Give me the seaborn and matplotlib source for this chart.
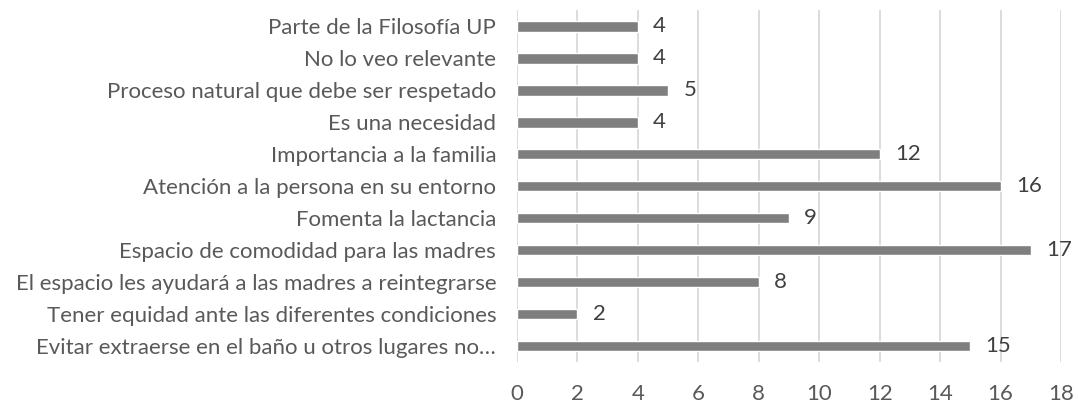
import matplotlib
matplotlib.use("Agg")
import matplotlib.pyplot as plt
import pandas as pd
import seaborn as sns

# categories listed top to bottom as in the chart
razones = [
    "Parte de la Filosofía UP",
    "No lo veo relevante",
    "Proceso natural que debe ser respetado",
    "Es una necesidad",
    "Importancia a la familia",
    "Atención a la persona en su entorno",
    "Fomenta la lactancia",
    "Espacio de comodidad para las madres",
    "El espacio les ayudará a las madres a reintegrarse",
    "Tener equidad ante las diferentes condiciones",
    "Evitar extraerse en el baño u otros lugares no…",
]
respuestas = [4, 4, 5, 4, 12, 16, 9, 17, 8, 2, 15]
x_ticks = list(range(0, 19, 2))

df = pd.DataFrame({"razon": razones, "n": respuestas})

sns.set_theme(style="white")
plt.rcParams["font.family"] = ["Lato", "DejaVu Sans"]

fig = plt.figure(figsize=(10.78, 4.04), dpi=100)
ax = fig.add_axes([0.4796, 0.104, 0.9842 - 0.4796, 0.975 - 0.104])

sns.barplot(data=df, x="n", y="razon", orient="h", color="#7f7f7f",
            saturation=1, width=0.34, ax=ax)

for i, v in enumerate(respuestas):
    ax.annotate(str(v), (v, i), xytext=(11, 0), textcoords="offset points",
                va="center", ha="left", fontsize=16, color="#404040")

ax.set_xlim(0, 18)
ax.set_xticks(x_ticks)
ax.set_ylim(len(razones) - 0.5, -0.5)
ax.grid(axis="x", color="#d9d9d9", linewidth=1.3)
ax.set_axisbelow(True)
for s in ax.spines.values():
    s.set_visible(False)
ax.tick_params(axis="both", length=0, labelsize=16, labelcolor="#595959")
ax.tick_params(axis="x", pad=16)
ax.tick_params(axis="y", pad=15)
ax.set_xlabel("")
ax.set_ylabel("")

fig.savefig("out.png", dpi=100)
